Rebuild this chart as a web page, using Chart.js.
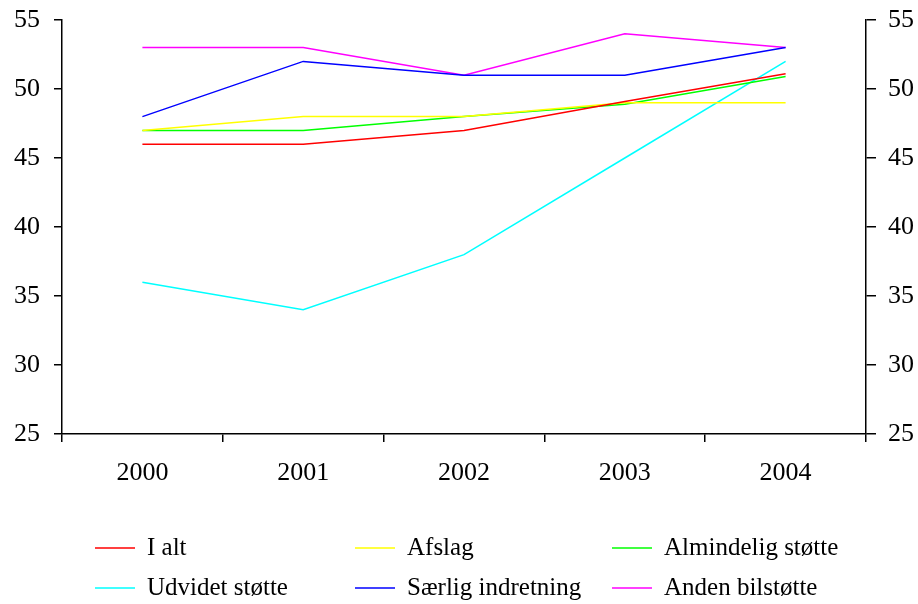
<!DOCTYPE html>
<html>
<head>
<meta charset="utf-8">
<script src="https://cdn.jsdelivr.net/npm/chart.js@4/dist/chart.umd.min.js"></script>
<style>
html, body { margin: 0; padding: 0; background: #ffffff; }
#wrap { position: relative; width: 918px; height: 604px; }
</style>
</head>
<body>
<div id="wrap"><canvas id="chart" width="918" height="604"></canvas></div>
<script>
// ---------- data ----------
const years = ["2000", "2001", "2002", "2003", "2004"];

const iAlt = [46, 46, 47, 49.1, 51.1];
const afslag = [47, 48, 48, 49, 49];
const almindelig = [47, 47, 48, 48.9, 50.9];
const udvidet = [36, 34, 38, 45, 52];
const saerlig = [48, 52, 51, 51, 53];
const anden = [53, 53, 51, 54, 53];

const seriesNames = ["I alt", "Afslag", "Almindelig støtte", "Udvidet støtte", "Særlig indretning", "Anden bilstøtte"];
const seriesColors = ["#ff0000", "#ffff00", "#00ff00", "#00ffff", "#0000ff", "#ff00ff"];
const seriesValues = [iAlt, afslag, almindelig, udvidet, saerlig, anden];

const FONT = "'Liberation Serif', 'Times New Roman', serif";

// ---------- legend drawn on canvas (3 columns) ----------
const legendPlugin = {
  id: "gridLegend",
  afterDraw(chart) {
    const ctx = chart.ctx;
    const colX = [95, 355, 612];
    const rowY = [548, 588];
    ctx.save();
    ctx.font = "25px " + FONT;
    ctx.textBaseline = "middle";
    ctx.fillStyle = "#000000";
    chart.data.datasets.forEach((ds, i) => {
      const x = colX[i % 3];
      const y = rowY[Math.floor(i / 3)];
      ctx.strokeStyle = ds.borderColor;
      ctx.lineWidth = 1.5;
      ctx.beginPath();
      ctx.moveTo(x, y);
      ctx.lineTo(x + 40, y);
      ctx.stroke();
      ctx.fillText(ds.label, x + 52, y);
    });
    ctx.restore();
  }
};

const yTicks = {
  color: "#000000",
  font: { family: FONT, size: 26 },
  stepSize: 5
};

// y axes: fixed width, no extra padding above the top label
function fitY(width) {
  return function (scale) {
    scale.width = width;
    scale.paddingTop = 0;
    scale.paddingBottom = 0;
  };
}

new Chart(document.getElementById("chart"), {
  type: "line",
  data: {
    labels: years,
    datasets: seriesNames.map((name, i) => ({
      label: name,
      data: seriesValues[i],
      borderColor: seriesColors[i],
      backgroundColor: seriesColors[i],
      borderWidth: 1.5,
      pointRadius: 0,
      tension: 0,
      fill: false,
      yAxisID: "y"
    }))
  },
  options: {
    responsive: false,
    animation: false,
    layout: { padding: { top: 20, left: 0, right: 0, bottom: 0 } },
    plugins: {
      legend: { display: false },
      tooltip: { enabled: false }
    },
    scales: {
      x: {
        type: "category",
        offset: true,
        grid: { offset: true, drawOnChartArea: false, drawTicks: true, tickLength: 8, color: "#000000", lineWidth: 1.5 },
        border: { color: "#000000", width: 1.5 },
        ticks: { color: "#000000", font: { family: FONT, size: 26 }, padding: 16, maxRotation: 0 },
        afterFit(scale) { scale.height = 170; }
      },
      y: {
        position: "left",
        min: 25,
        max: 55,
        grid: { drawOnChartArea: false, drawTicks: true, tickLength: 8, color: "#000000", lineWidth: 1.5 },
        border: { color: "#000000", width: 1.5 },
        ticks: Object.assign({ padding: 14 }, yTicks),
        afterFit: fitY(62)
      },
      y2: {
        position: "right",
        min: 25,
        max: 55,
        grid: { drawOnChartArea: false, drawTicks: true, tickLength: 10, color: "#000000", lineWidth: 1.5 },
        border: { color: "#000000", width: 1.5 },
        ticks: Object.assign({ padding: 12 }, yTicks),
        afterFit: fitY(52)
      }
    }
  },
  plugins: [legendPlugin]
});
</script>
</body>
</html>
